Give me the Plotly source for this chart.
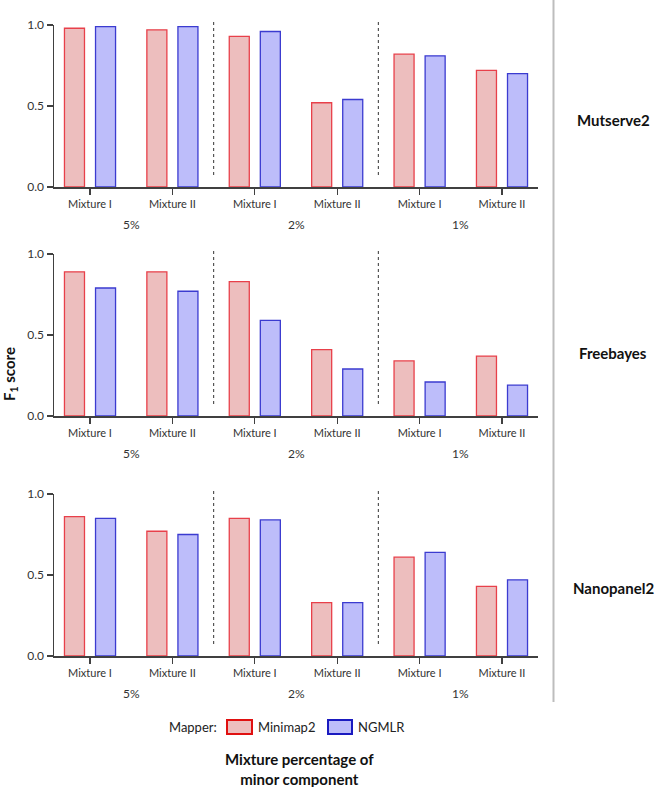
import plotly.graph_objects as go

OFF = 0
W, H = 659, 787

# ---------------- data ----------------
categories = ["Mixture I", "Mixture II", "Mixture I", "Mixture II", "Mixture I", "Mixture II"]
percent_groups = ["5%", "2%", "1%"]
callers = ["Mutserve2", "Freebayes", "Nanopanel2"]
mappers = ["Minimap2", "NGMLR"]

mutserve2_minimap2 = [0.98, 0.97, 0.93, 0.52, 0.82, 0.72]
mutserve2_ngmlr = [0.99, 0.99, 0.96, 0.54, 0.81, 0.70]
freebayes_minimap2 = [0.89, 0.89, 0.83, 0.41, 0.34, 0.37]
freebayes_ngmlr = [0.79, 0.77, 0.59, 0.29, 0.21, 0.19]
nanopanel2_minimap2 = [0.86, 0.77, 0.85, 0.33, 0.61, 0.43]
nanopanel2_ngmlr = [0.85, 0.75, 0.84, 0.33, 0.64, 0.47]

y_ticks = [0.0, 0.5, 1.0]

series = {
    "Mutserve2": (mutserve2_minimap2, mutserve2_ngmlr),
    "Freebayes": (freebayes_minimap2, freebayes_ngmlr),
    "Nanopanel2": (nanopanel2_minimap2, nanopanel2_ngmlr),
}

# ---------------- style ----------------
FONT = "Lato, 'Open Sans', sans-serif"
fill_colors = ["#EDBEBE", "#BDBDFA"]
line_colors = ["#E8404A", "#3B3BD0"]
legend_line_colors = ["#E01010", "#1A1AC0"]
AXIS = "#404040"

def py(px):
    return 1 - (px - OFF) / H

def pxx(px):
    return (px - OFF) / W

x_dom = [pxx(54), pxx(538)]
panels_px = [(25, 187), (254, 416), (494, 656)]
label_y_px = [120, 353, 588]

xpos = list(range(len(categories)))
bar_w = 0.243
offsets = [-0.31, 0.067]

fig = go.Figure()
layout = dict(
    width=W, height=H,
    margin=dict(l=0, r=0, t=0, b=0, autoexpand=False),
    paper_bgcolor="white", plot_bgcolor="white",
    showlegend=False,
    barmode="overlay",
    font=dict(family=FONT, color="#333333"),
)
shapes = []
annotations = []

for i, caller in enumerate(callers):
    n = "" if i == 0 else str(i + 1)
    xa, ya = "x" + n, "y" + n
    vals = series[caller]
    for m, mapper in enumerate(mappers):
        fig.add_trace(go.Bar(
            x=xpos, y=vals[m], name=mapper,
            width=bar_w, offset=offsets[m],
            marker=dict(color=fill_colors[m], line=dict(color=line_colors[m], width=1.3)),
            xaxis=xa, yaxis=ya,
        ))
    top, bot = panels_px[i]
    layout["xaxis" + n] = dict(
        domain=x_dom, anchor=ya, range=[-0.437, len(categories) - 1 + 0.437],
        tickmode="array", tickvals=xpos, ticktext=categories,
        showline=True, linecolor=AXIS, linewidth=1.5,
        ticks="outside", ticklen=6, tickcolor=AXIS, tickwidth=1.2,
        tickfont=dict(size=11, color="#333333", family=FONT),
        showgrid=False, zeroline=False, fixedrange=True, automargin=False,
    )
    layout["yaxis" + n] = dict(
        domain=[py(bot), py(top)], anchor=xa, range=[0, 1.0],
        tickmode="array", tickvals=y_ticks, tickformat=".1f",
        showline=True, linecolor=AXIS, linewidth=1.5,
        ticks="outside", ticklen=6, tickcolor=AXIS, tickwidth=1.2,
        tickfont=dict(size=12, color="#333333", family=FONT),
        showgrid=False, zeroline=False, fixedrange=True, automargin=False,
    )
    # dotted separators between percentage groups
    for g in range(1, len(percent_groups)):
        xs = 2 * g - 0.5
        shapes.append(dict(
            type="line", xref=xa, yref=ya + " domain",
            x0=xs, x1=xs, y0=0.074, y1=1.037,
            line=dict(color="#555555", width=1.2, dash="dot"),
        ))
    # group labels
    for g, lab in enumerate(percent_groups):
        annotations.append(dict(
            text=lab, xref=xa, yref=ya + " domain", x=2 * g + 0.5, y=0,
            yshift=-37, showarrow=False, xanchor="center", yanchor="middle",
            font=dict(size=12, color="#333333", family=FONT),
        ))
    # caller label on the right
    annotations.append(dict(
        text="<b>" + caller + "</b>", xref="paper", yref="paper",
        x=pxx(613), y=py(label_y_px[i]), showarrow=False,
        xanchor="center", yanchor="middle",
        font=dict(size=15, color="#111111", family=FONT),
    ))

# right-hand separator line
shapes.append(dict(type="line", xref="paper", yref="paper",
                   x0=pxx(553.5), x1=pxx(553.5), y0=py(702), y1=1,
                   line=dict(color="#BDBDBD", width=2)))

# y title
annotations.append(dict(
    text="<b>F<sub>1</sub> score</b>", xref="paper", yref="paper",
    x=pxx(10), y=py(374), textangle=-90, showarrow=False,
    xanchor="center", yanchor="middle",
    font=dict(size=15, color="#111111", family=FONT),
))

# legend (manual)
annotations.append(dict(
    text="Mapper:", xref="paper", yref="paper", x=pxx(219), y=py(727),
    showarrow=False, xanchor="right", yanchor="middle",
    font=dict(size=13, color="#222222", family=FONT),
))
legend_boxes = [(227, 252), (328, 352)]
for m, mapper in enumerate(mappers):
    x0, x1 = legend_boxes[m]
    shapes.append(dict(type="rect", xref="paper", yref="paper",
                       x0=pxx(x0), x1=pxx(x1), y0=py(734), y1=py(720),
                       fillcolor=fill_colors[m],
                       line=dict(color=legend_line_colors[m], width=2)))
    annotations.append(dict(
        text=mapper, xref="paper", yref="paper", x=pxx(x1 + 4), y=py(727),
        showarrow=False, xanchor="left", yanchor="middle",
        font=dict(size=13, color="#222222", family=FONT),
    ))

# x title
annotations.append(dict(
    text="<b>Mixture percentage of<br>minor component</b>", xref="paper", yref="paper",
    x=pxx(299), y=py(769), showarrow=False, xanchor="center", yanchor="middle",
    font=dict(size=15, color="#111111", family=FONT),
))

layout["shapes"] = shapes
layout["annotations"] = annotations
fig.update_layout(**layout)
fig.write_html("out.html",
               config={"displayModeBar": False, "staticPlot": True},
               post_script="document.body.style.margin='0';document.body.style.overflow='hidden';")
